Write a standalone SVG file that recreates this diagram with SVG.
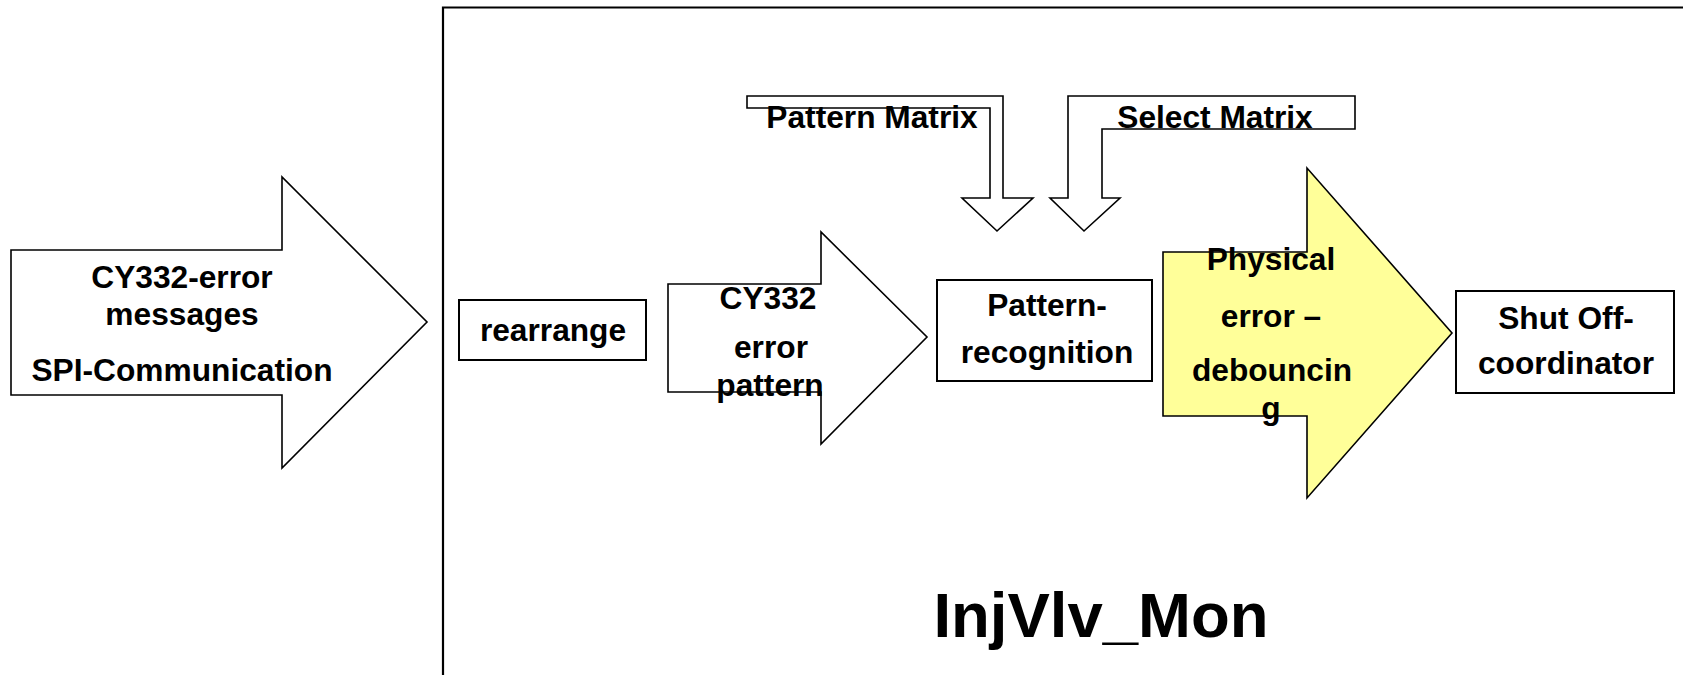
<svg xmlns="http://www.w3.org/2000/svg" width="1683" height="675" viewBox="0 0 1683 675">
<style>
.t{font-family:"Liberation Sans",Arial,sans-serif;font-weight:bold;font-size:31.7px;fill:#000;text-anchor:middle}
.sh{fill:#fff;stroke:#000;stroke-width:1.6;stroke-linejoin:miter}
.box{fill:#fff;stroke:#000;stroke-width:2}
</style>
<rect width="1683" height="675" fill="#fff"/>
<g id="container">
<path d="M443 676 V7.5 H1684" fill="none" stroke="#000" stroke-width="2.2"/>
<text class="t" x="1101" y="637" style="font-size:63.5px">InjVlv_Mon</text>
</g>
<g id="connectors">
<g id="spi-arrow">
<polygon class="sh" points="11,250 282,250 282,177 427,322 282,468 282,395 11,395"/>
<text class="t" x="182" y="288">CY332-error</text>
<text class="t" x="182" y="325">messages</text>
<text class="t" x="182" y="381">SPI-Communication</text>
</g>
<g id="pattern-arrow">
<polygon class="sh" points="668,284 821,284 821,232 927,337 821,444 821,392 668,392"/>
<text class="t" x="768" y="309">CY332</text>
<text class="t" x="771" y="358">error</text>
<text class="t" x="770" y="396">pattern</text>
</g>
<g id="pattern-matrix-arrow">
<polygon class="sh" points="747,96 1003,96 1003,198 1033,198 997,231 962,198 990,198 990,108 747,108"/>
<text class="t" x="872" y="128">Pattern Matrix</text>
</g>
<g id="select-matrix-arrow">
<polygon class="sh" points="1355,96 1355,129 1102,129 1102,198 1120,198 1084,231 1050,198 1068,198 1068,96"/>
<text class="t" x="1215" y="128">Select Matrix</text>
</g>
<g id="debounce-arrow">
<polygon class="sh" style="fill:#ffff99" points="1163,252 1307,252 1307,168 1452,333 1307,498 1307,416 1163,416"/>
<text class="t" x="1271" y="270">Physical</text>
<text class="t" x="1271" y="327">error –</text>
<text class="t" x="1272" y="381">debouncin</text>
<text class="t" x="1271" y="419">g</text>
</g>
</g>
<g id="rearrange">
<rect class="box" x="459" y="300" width="187" height="60"/>
<text class="t" x="553" y="341">rearrange</text>
</g>
<g id="pattern-recognition">
<rect class="box" x="937" y="280" width="215" height="101"/>
<text class="t" x="1047" y="316">Pattern-</text>
<text class="t" x="1047" y="363">recognition</text>
</g>
<g id="shut-off">
<rect class="box" x="1456" y="291" width="218" height="102"/>
<text class="t" x="1566" y="329">Shut Off-</text>
<text class="t" x="1566" y="374">coordinator</text>
</g>
</svg>
